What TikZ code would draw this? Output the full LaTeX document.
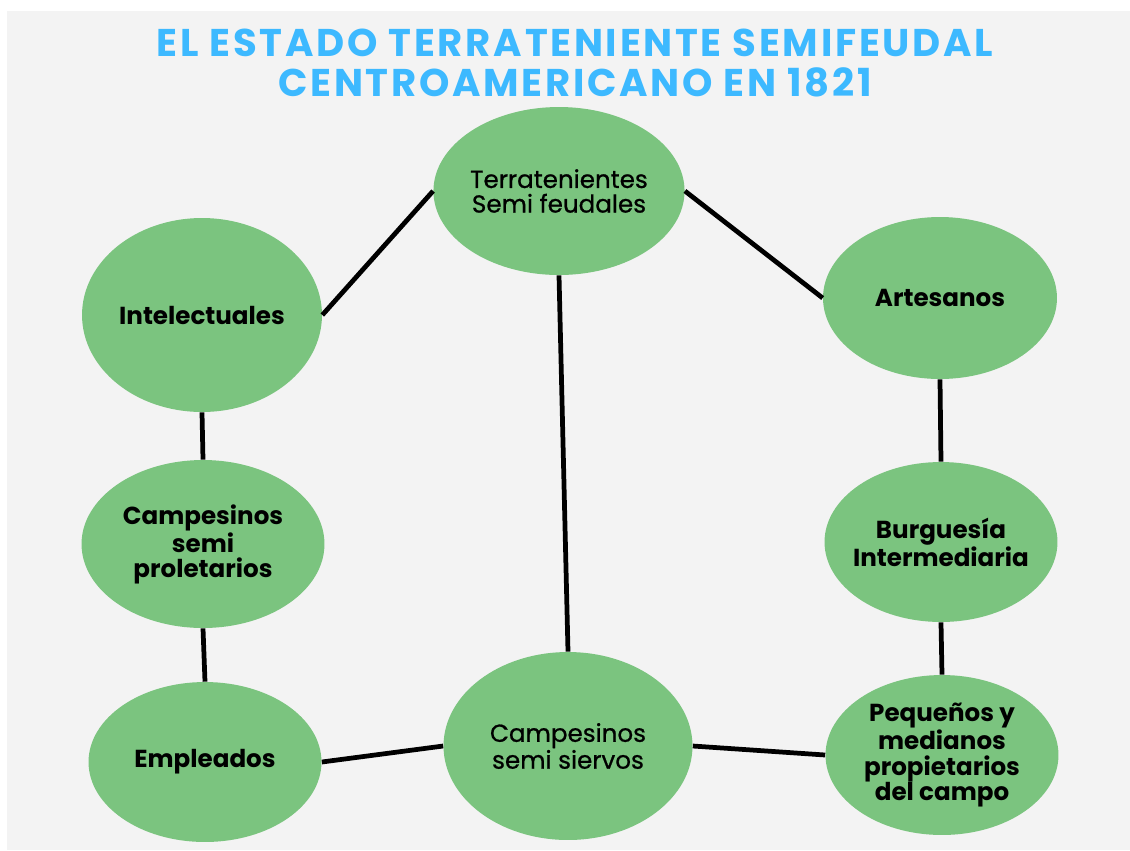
\documentclass[tikz,border=0pt]{standalone}
\usepackage{fontspec}
\setmainfont{Poppins}
\usetikzlibrary{shapes.geometric}
\definecolor{fondo}{HTML}{F3F3F3}
\definecolor{verde}{HTML}{7BC47F}
\definecolor{azul}{HTML}{3DB9FF}
\begin{document}
\begin{tikzpicture}[x=0.02cm,y=-0.02cm,line join=round,line cap=butt]
	\tikzset{clase/.style={ellipse,fill=verde,inner sep=0pt,align=center,
			font=\fontsize{14}{14.3}\selectfont\bfseries},
		medio/.style={font=\fontsize{14}{14}\selectfont\addfontfeatures{FakeBold=0.8}},
		liga/.style={line width=2.7pt,black}}
	\useasboundingbox (0,0) rectangle (1130,850);
	\fill[fondo] (7,11) rectangle (1130,850);
	\node[azul,align=center,font=\fontsize{22}{23.3}\selectfont\bfseries\addfontfeatures{LetterSpace=7}] (titulo) at (575,63)
	{EL ESTADO TERRATENIENTE SEMIFEUDAL\\CENTROAMERICANO EN 1821};
	% clases sociales
	\node[clase,medio,minimum width=5cm,minimum height=3.36cm] (terra) at (559,191) {Terratenientes\\Semi feudales};
	\node[clase,minimum width=4.8cm,minimum height=3.88cm] (intel) at (202,315) {Intelectuales};
	\node[clase,minimum width=4.68cm,minimum height=3.24cm] (arte) at (940,298) {Artesanos};
	\node[clase,minimum width=4.86cm,minimum height=3.36cm] (prole) at (203,544) {Campesinos\\semi\\proletarios};
	\node[clase,inner xsep=-12pt,minimum width=4.66cm,minimum height=3.2cm] (burgo) at (941,542) {Burguesía\\Intermediaria};
	\node[clase,minimum width=4.66cm,minimum height=3.2cm] (emple) at (205,762) {Empleados};
	\node[clase,medio,minimum width=4.98cm,minimum height=3.76cm] (siervo) at (568,746) {Campesinos\\semi siervos};
	\node[clase,minimum width=4.66cm,minimum height=3.2cm] (peque) at (942,755) {Pequeños y\\medianos\\propietarios\\del campo};
	% relaciones
	\foreach \a/\b in {terra.west/intel.east,terra.east/arte.west,terra.south/siervo.north,
		intel.south/prole.north,prole.south/emple.north,emple.east/siervo.west,
		siervo.east/peque.west,arte.south/burgo.north,burgo.south/peque.north}
	\draw[liga] (\a)--(\b);
\end{tikzpicture}
\end{document}
